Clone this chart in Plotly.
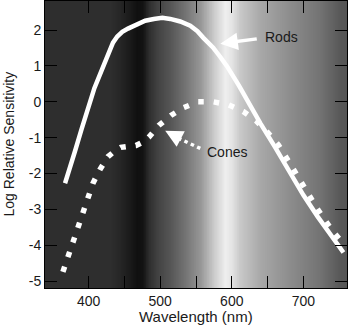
import numpy as np
import plotly.graph_objects as go

# Data
rods_wl = [367, 374, 381, 390, 399, 408, 418, 426, 434, 440, 447, 455, 467, 479, 491, 503,
           514, 528, 542, 552, 560, 567, 574, 584, 593, 610, 626, 640, 660, 680, 700, 720, 740, 756]
rods_val = [-2.27, -1.85, -1.37, -0.77, -0.17, 0.38, 0.87, 1.28, 1.65, 1.82, 1.95, 2.04, 2.16, 2.26,
            2.31, 2.34, 2.31, 2.24, 2.12, 1.97, 1.79, 1.64, 1.51, 1.25, 1.0, 0.45, -0.12, -0.6,
            -1.25, -1.92, -2.6, -3.2, -3.75, -4.2]

cones_wl = [364, 371, 378, 384, 391, 398, 406, 416, 427, 436, 445, 456, 466, 476, 484, 498, 515,
            533, 553, 574, 595, 616, 634, 650, 665, 680, 700, 720, 740, 758]
cones_val = [-4.74, -4.33, -3.9, -3.5, -3.07, -2.66, -2.27, -1.88, -1.53, -1.38, -1.27, -1.24,
             -1.22, -1.12, -0.99, -0.66, -0.38, -0.16, 0.0, 0.0, -0.08, -0.27, -0.53, -0.85,
             -1.2, -1.68, -2.35, -3.0, -3.58, -4.0]

# background gradient stops (wavelength, grey level)
bg_wl = [339, 430, 444, 458, 468, 476, 484, 498, 514, 535, 556, 577, 591, 600, 612, 640, 682, 723, 751, 761]
bg_grey = [46, 46, 38, 26, 16, 18, 45, 68, 85, 115, 150, 208, 238, 228, 200, 168, 140, 115, 88, 85]

x_ticks = [400, 500, 600, 700]
x_minor = [450, 550, 650]
y_ticks = [-5, -4, -3, -2, -1, 0, 1, 2]
y_ticktext = ["-5", "-4", "-3", "-2", "-1", "0", "1", "2"]

XR = [339, 761]
YR = [-5.19, 2.81]

gx = np.arange(XR[0], XR[1] + 1, 1.0)
gz = np.interp(gx, bg_wl, bg_grey)

fig = go.Figure()
fig.add_trace(go.Heatmap(x=gx, y=YR, z=[gz, gz], colorscale=[[0, "black"], [1, "white"]],
                         zmin=0, zmax=255, showscale=False, hoverinfo="skip"))
fig.add_trace(go.Scatter(x=rods_wl, y=rods_val, mode="lines",
                         line=dict(color="white", width=4.5), showlegend=False))
fig.add_trace(go.Scatter(x=cones_wl, y=cones_val, mode="lines",
                         line=dict(color="white", width=5.5, dash="5.5px,10px"), showlegend=False))
# dotted shaft of the Cones arrow
fig.add_trace(go.Scatter(x=[556, 526], y=[-1.3, -1.02], mode="lines",
                         line=dict(color="white", width=3.5, dash="3.5px,3.5px"), showlegend=False))

font = "Liberation Sans"
txt = "#1a1a1a"
fig.add_annotation(x=669, y=1.81, text="Rods", showarrow=False, font=dict(family=font, size=14, color=txt))
fig.add_annotation(x=584, y=1.62, ax=637, ay=1.76, axref="x", ayref="y", text="", showarrow=True,
                   arrowhead=2, arrowsize=1, arrowwidth=3.5, arrowcolor="white")
fig.add_annotation(x=594, y=-1.41, text="Cones", showarrow=False, font=dict(family=font, size=14, color=txt))
fig.add_annotation(x=507, y=-0.81, ax=528, ay=-1.03, axref="x", ayref="y", text="", showarrow=True,
                   arrowhead=2, arrowsize=1, arrowwidth=3.5, arrowcolor="white")

fig.add_annotation(xref="paper", yref="paper", x=0.5, y=0, yshift=-18, yanchor="top",
                   text="Wavelength (nm)", showarrow=False, font=dict(family=font, size=15, color=txt))
fig.add_annotation(xref="paper", yref="paper", x=0, y=0.5, xshift=-37, xanchor="center",
                   text="Log Relative Sensitivity", textangle=-90, showarrow=False,
                   font=dict(family=font, size=14, color=txt))

fig.update_layout(
    width=349, height=326, margin=dict(l=45, r=2, t=1, b=38),
    paper_bgcolor="white", plot_bgcolor="white",
    font=dict(family=font, size=14, color=txt),
    xaxis=dict(range=XR, tickmode="array", tickvals=x_ticks, ticks="inside", ticklen=12,
               tickcolor="black", showline=True, linecolor="black", mirror="ticks",
               showgrid=False, zeroline=False,
               minor=dict(tickmode="array", tickvals=x_minor, ticks="inside", ticklen=12,
                          tickcolor="black", showgrid=False)),
    yaxis=dict(range=YR, tickmode="array", tickvals=y_ticks, ticktext=y_ticktext, ticks="inside",
               ticklen=12, tickcolor="black", showline=True, linecolor="black", mirror="ticks",
               showgrid=False, zeroline=False),
)
fig.write_html("out.html")
